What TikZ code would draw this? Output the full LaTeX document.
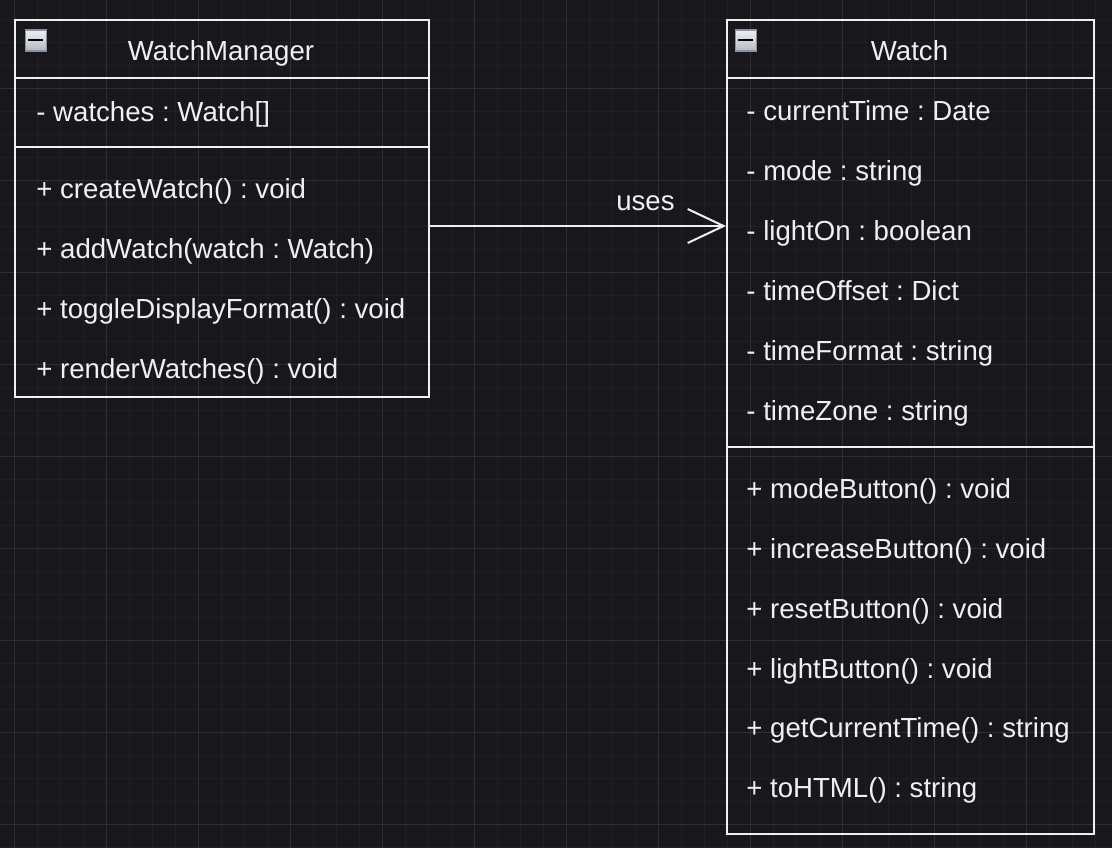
\documentclass[tikz,border=0pt]{standalone}
\usepackage{fontspec}
\setmainfont{Liberation Sans}
\usepackage{tikz}
\usetikzlibrary{arrows.meta,positioning}
\frenchspacing
\definecolor{CanvasBg}{HTML}{18171C}
\definecolor{GridMinor}{HTML}{211F26}
\definecolor{GridMajor}{HTML}{302E34}
\definecolor{InkWhite}{HTML}{F0F0F0}
\definecolor{IconTop}{HTML}{EEF0F3}
\definecolor{IconBot}{HTML}{B4B9C2}
\definecolor{IconEdge}{HTML}{8B92A0}
\tikzset{
  CB/.style={rectangle,draw=InkWhite,line width=1pt,anchor=north west,inner sep=0pt},
  DV/.style={draw=InkWhite,line width=1pt},
  TX/.style={text=InkWhite,inner sep=0pt,
             font=\fontsize{13.8pt}{16pt}\selectfont,
             text height=9.8pt,text depth=0pt},
  HD/.style={TX},
  MB/.style={TX,anchor=west},
  IC/.style={rectangle,draw=IconEdge,line width=0.75pt,
             top color=IconTop,bottom color=IconBot,
             minimum size=10.5pt,inner sep=0pt},
  arr/.style={-{Straight Barb[length=18pt,width=17pt]},draw=InkWhite,line width=1pt},
  GN/.style={GridMinor,line width=0.5pt},
  GJ/.style={GridMajor,line width=0.6pt}
}

\begin{document}
\begin{tikzpicture}[x=0.5pt,y=-0.5pt]
  \fill[CanvasBg] (0,0) rectangle (1112,848);
  \useasboundingbox (0,0) rectangle (1112,848);

  % grid
  \foreach \gx in {-8.3,14.7,...,1120} \draw[GN] (\gx,0) -- (\gx,848);
  \foreach \gy in {-3.7,19.3,...,860} \draw[GN] (0,\gy) -- (1112,\gy);
  \foreach \gx in {14.7,106.7,...,1120} \draw[GJ] (\gx,0) -- (\gx,848);
  \foreach \gy in {-3.7,88.3,...,860} \draw[GJ] (0,\gy) -- (1112,\gy);

  % classes
  \node[CB,minimum width=207pt,minimum height=188.5pt] (mgr) at (14,19) {};
  \node[CB,minimum width=183.5pt,minimum height=407pt] (watch) at (726,19) {};

  \node[HD] (mgrName) at (221,51) {WatchManager};
  \node[HD] (watchName) at (909.5,51) {Watch};

  \node[IC] (mgrIcon) at (35.8,40.3) {};
  \draw[line width=1pt,black] ([xshift=1.8pt]mgrIcon.west) -- ([xshift=-1.8pt]mgrIcon.east);
  \node[IC] (watchIcon) at (745.8,40.3) {};
  \draw[line width=1pt,black] ([xshift=1.8pt]watchIcon.west) -- ([xshift=-1.8pt]watchIcon.east);

  \draw[DV] (mgr.north west) ++(0,59) -- ++(414,0);
  \draw[DV] (mgr.north west) ++(0,128) -- ++(414,0);
  \draw[DV] (watch.north west) ++(0,59) -- ++(367,0);
  \draw[DV] (watch.north west) ++(0,428) -- ++(367,0);

  % members
  \node[MB] (mgrAttr1) at (36,112) {- watches : Watch[]};
  \foreach \txt [count=\i] in {+ createWatch() : void, + addWatch(watch : Watch),
      + toggleDisplayFormat() : void, + renderWatches() : void}
    \node[MB] (mgrOp\i) at (36,{129+60*\i}) {\txt};

  \foreach \txt [count=\i] in {- currentTime : Date, - mode : string, - lightOn : boolean,
      - timeOffset : Dict, - timeFormat : string, - timeZone : string}
    \node[MB] (watchAttr\i) at (746,{51+60*\i}) {\txt};
  \foreach \txt [count=\i] in {+ modeButton() : void, + increaseButton() : void,
      + resetButton() : void, + lightButton() : void,
      + getCurrentTime() : string, + toHTML() : string}
    \node[MB] (watchOp\i) at (746,{429+59.8*\i}) {\txt};

  % association
  \path (mgr.north east) ++(0,207) coordinate (usesFrom);
  \draw[arr] (usesFrom) -- (usesFrom -| watch.west)
    node[TX,pos=0.728,above=7.5pt] (usesLbl) {uses};
\end{tikzpicture}
\end{document}
